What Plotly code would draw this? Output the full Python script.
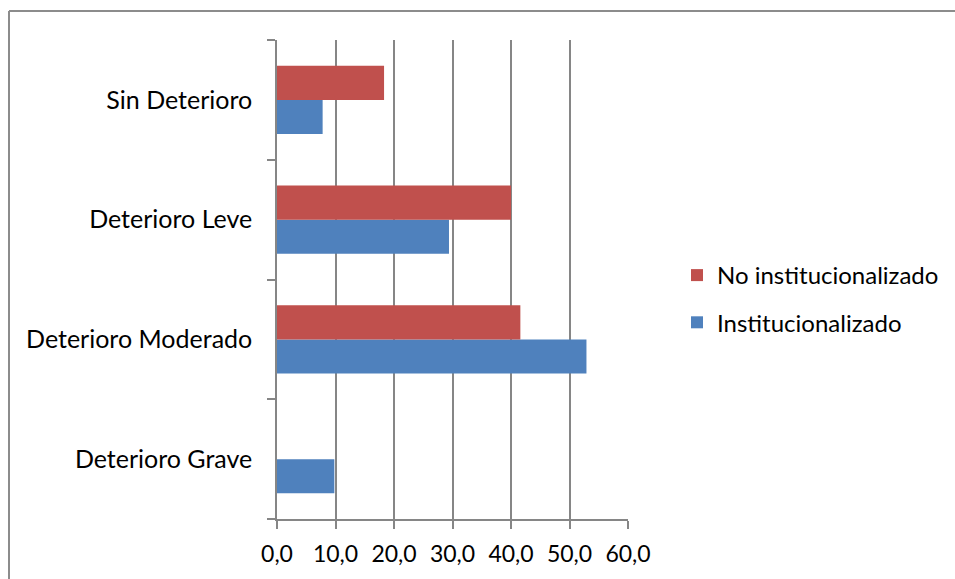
import plotly.graph_objects as go

# Cognitive-impairment categories (bottom to top on the axis)
categories = ["Deterioro Grave", "Deterioro Moderado", "Deterioro Leve", "Sin Deterioro"]
institucionalizado = [9.8, 52.9, 29.4, 7.8]
no_institucionalizado = [0.0, 41.6, 40.0, 18.3]
x_ticks = [0, 10, 20, 30, 40, 50, 60]
x_tick_labels = ["0,0", "10,0", "20,0", "30,0", "40,0", "50,0", "60,0"]

FONT = "Lato"
FONT_SIZE = 25
GRID = "#868686"
W, H = 955, 579
L, R, T, B = 277, 628, 40, 519  # plot area in pixels

fig = go.Figure()
fig.add_trace(go.Bar(
    y=categories, x=institucionalizado, orientation="h",
    name="Institucionalizado", legendgroup="a", legendrank=2,
    marker=dict(color="#4F81BD", line=dict(width=0)),
))
fig.add_trace(go.Bar(
    y=categories, x=no_institucionalizado, orientation="h",
    name="No institucionalizado", legendgroup="b", legendrank=1,
    marker=dict(color="#C0504D", line=dict(width=0)),
))

def px_x(p):
    return (p - L) / (R - L)

def px_y(p):
    return (B - p) / (B - T)

# chart frame (top and left edges)
frame = dict(type="line", xref="paper", yref="paper",
             line=dict(color="#8C8C8C", width=2), layer="above")
fig.add_shape(**frame, x0=px_x(9), x1=px_x(W + 5), y0=px_y(11), y1=px_y(11))
fig.add_shape(**frame, x0=px_x(9), x1=px_x(9), y0=px_y(11), y1=px_y(H + 5))

fig.update_layout(
    width=W, height=H,
    margin=dict(l=L, r=W - R, t=T, b=H - B, pad=0, autoexpand=False),
    paper_bgcolor="white", plot_bgcolor="white",
    font=dict(family=FONT, size=FONT_SIZE, color="#000000"),
    barmode="group", bargap=0.4286, bargroupgap=0,
    showlegend=True,
    legend=dict(
        x=px_x(677), y=px_y(253), xanchor="left", yanchor="top",
        traceorder="grouped", tracegroupgap=13,
        font=dict(family=FONT, size=24),
        bgcolor="rgba(0,0,0,0)", itemwidth=30,
    ),
    xaxis=dict(
        range=[0, 60], tickvals=x_ticks, ticktext=x_tick_labels,
        tickfont=dict(size=23),
        showgrid=True, gridcolor=GRID, gridwidth=1.5,
        showline=True, linecolor=GRID, linewidth=1.5,
        ticks="outside", ticklen=8, tickcolor=GRID, tickwidth=1.5,
        zeroline=False, ticklabelstandoff=6, fixedrange=True,
        automargin=False,
    ),
    yaxis=dict(
        categoryorder="array", categoryarray=categories,
        showline=True, linecolor=GRID, linewidth=1.5,
        ticks="outside", ticklen=8, tickcolor=GRID, tickwidth=1.5,
        tickson="boundaries", showgrid=False, zeroline=False,
        ticklabelstandoff=18, fixedrange=True, automargin=False,
    ),
)

fig.write_html("out.html")
